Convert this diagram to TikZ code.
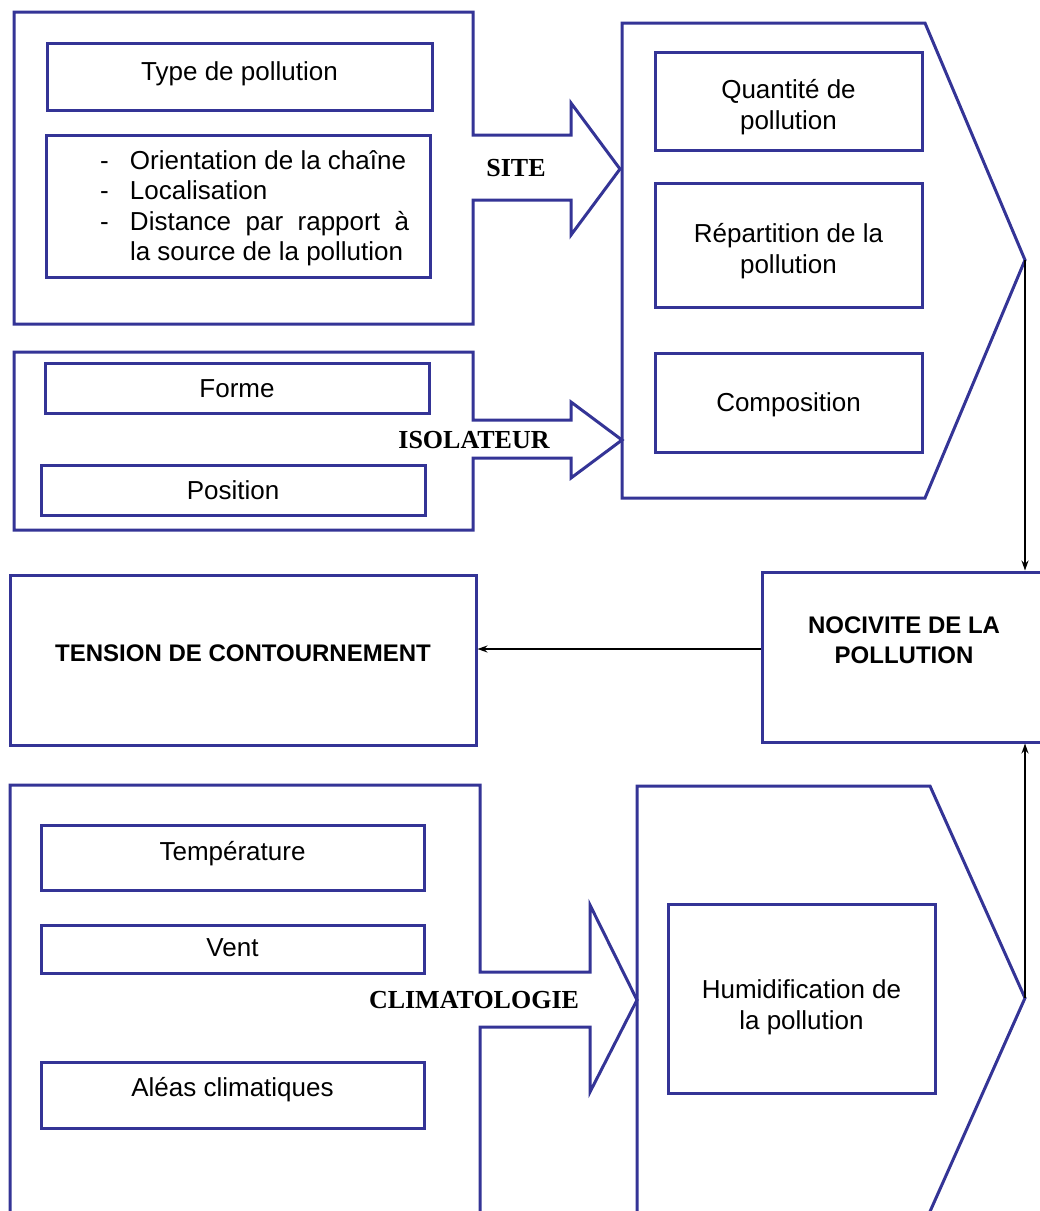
\documentclass[tikz,border=0pt]{standalone}
\usepackage{fontspec}
\setmainfont{Liberation Sans}
\newfontfamily\timesf{Liberation Serif}
\usetikzlibrary{arrows.meta}
\definecolor{frameblue}{RGB}{52,52,150}
\begin{document}
\begin{tikzpicture}[x=1pt,y=-1pt,
  frame/.style={draw=frameblue,line width=3pt,line join=miter},
  ibox/.style={frame,rectangle,inner sep=0pt},
  txt/.style={inner sep=0pt,font=\fontsize{26}{31}\selectfont,align=center},
  lbl/.style={font=\timesf\bfseries\fontsize{26}{30}\selectfont,inner sep=0pt},
  conn/.style={draw=black,line width=1.5pt,-{Stealth[length=10pt,width=7pt]}},
  capstxt/.style={inner sep=0pt,font=\bfseries\fontsize{24}{29.5}\selectfont,align=center}]
\useasboundingbox (0,0) rectangle (1040,1211);
\clip (0,0) rectangle (1040,1211);
\fill[white] (0,0) rectangle (1040,1211);

% SITE group
\draw[frame] (14,12) -- (473,12) -- (473,135) -- (571,135) -- (571,103) -- (620,169)
  -- (571,235) -- (571,200) -- (473,200) -- (473,324) -- (14,324) -- cycle;
\coordinate (siteTip) at (620,169);
\node[ibox,minimum width=385pt,minimum height=67pt] (type) at (239.5,76.5) {};
\node[txt] (typeT) at ([yshift=3pt]type.center) {Type de pollution};
\node[ibox,minimum width=384pt,minimum height=142pt] (orient) at (238,206) {};
\node[txt,anchor=center] (orientT) at ([xshift=16.5pt,yshift=-3pt]orient.center)
  {\fontsize{26}{30.5}\selectfont\begin{tabular}{@{}p{30pt}@{}l@{}}
   - & Orientation de la chaîne\\
   - & Localisation\\
   - & \hbox to 279pt{Distance\hfill par\hfill rapport\hfill à}\\
     & la source de la pollution
  \end{tabular}};
\node[lbl] (site) at (516,168) {SITE};

% ISOLATEUR group
\draw[frame] (14,352) -- (473,352) -- (473,420) -- (571,420) -- (571,402) -- (622,440)
  -- (571,478) -- (571,458) -- (473,458) -- (473,530) -- (14,530) -- cycle;
\node[ibox,minimum width=384pt,minimum height=50pt] (forme) at (237,388) {};
\node[txt] (formeT) at ([yshift=-0.7pt]forme.center) {Forme};
\node[ibox,minimum width=384pt,minimum height=50pt] (position) at (233,490) {};
\node[txt] (positionT) at ([yshift=-0.5pt]position.center) {Position};
\node[lbl] (isol) at (474,440) {ISOLATEUR};

% Top pentagon
\draw[frame] (622,23) -- (925,23) -- (1025,260) -- (925,498) -- (622,498) -- cycle;
\coordinate (topTip) at (1025,260);
\node[ibox,minimum width=267pt,minimum height=98pt] (quant) at (788.5,101) {};
\node[txt] (quantT) at ([yshift=-6pt]quant.center) {Quantité de\\pollution};
\node[ibox,minimum width=267pt,minimum height=124pt] (repart) at (788.5,245) {};
\node[txt] (repartT) at ([yshift=-6pt]repart.center) {Répartition de la\\pollution};
\node[ibox,minimum width=267pt,minimum height=99pt] (compo) at (788.5,402.5) {};
\node[txt] (compoT) at ([yshift=-2.5pt]compo.center) {Composition};

% Middle row
\node[ibox,minimum width=466pt,minimum height=170pt] (tension) at (243,660) {};
\node[capstxt] (tensionT) at ([yshift=6.5pt]tension.center) {TENSION DE CONTOURNEMENT};
\node[ibox,minimum width=284pt,minimum height=170pt] (noc) at (904,657) {};
\node[capstxt] (nocT) at ([yshift=17pt]noc.center) {NOCIVITE DE LA\\POLLUTION};

% CLIMATOLOGIE group
\draw[frame] (10,785) -- (480,785) -- (480,972) -- (590,972) -- (590,905) -- (637,1000)
  -- (590,1092) -- (590,1027) -- (480,1027) -- (480,1218) -- (10,1218) -- cycle;
\node[ibox,minimum width=383pt,minimum height=65pt] (temp) at (232.5,857.5) {};
\node[txt] (tempT) at ([yshift=4pt]temp.center) {Température};
\node[ibox,minimum width=383pt,minimum height=48pt] (vent) at (232.5,949) {};
\node[txt] (ventT) at ([yshift=1.5pt]vent.center) {Vent};
\node[ibox,minimum width=383pt,minimum height=66pt] (aleas) at (232.5,1095) {};
\node[txt] (aleasT) at ([yshift=5pt]aleas.center) {Aléas climatiques};
\node[lbl] (clim) at (474,1000) {CLIMATOLOGIE};

% Bottom pentagon
\draw[frame] (637,786) -- (930,786) -- (1025,998) -- (928,1216) -- (637,1216) -- cycle;
\coordinate (botTip) at (1025,998);
\node[ibox,minimum width=267pt,minimum height=189pt] (humid) at (801.5,998.5) {};
\node[txt] (humidT) at ([yshift=-8.5pt]humid.center) {Humidification de\\la pollution};

% Connectors
\draw[conn] (topTip) -- (topTip |- noc.north);
\draw[conn] (botTip) -- (botTip |- noc.south);
\coordinate (nocOut) at ([yshift=8pt]noc.west);
\draw[conn] (nocOut) -- (nocOut -| tension.east);
\end{tikzpicture}
\end{document}
